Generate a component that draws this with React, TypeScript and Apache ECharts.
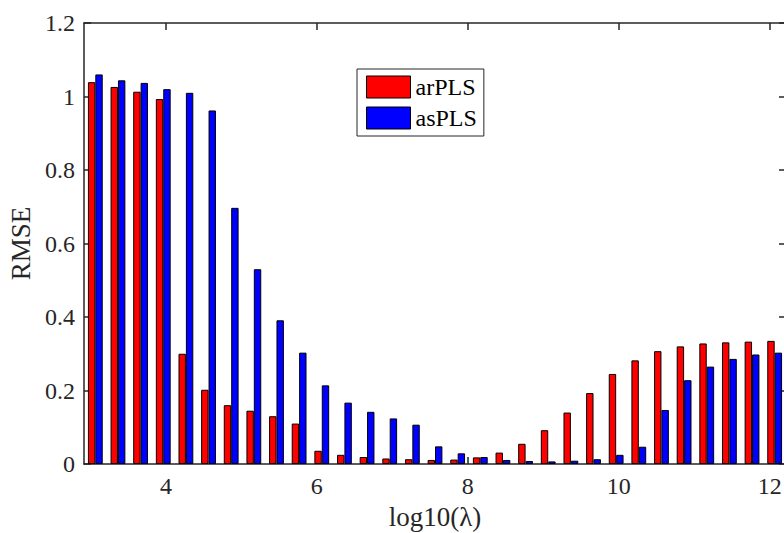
import React, { useEffect, useRef } from "react";
import * as echarts from "echarts";

const lgLambda = [
  3.065, 3.365, 3.665, 3.965, 4.265, 4.565, 4.865, 5.165, 5.465, 5.765, 6.065,
  6.365, 6.665, 6.965, 7.265, 7.565, 7.865, 8.165, 8.465, 8.765, 9.065, 9.365,
  9.665, 9.965, 10.265, 10.565, 10.865, 11.165, 11.465, 11.765, 12.065,
];
const arPLS = [
  1.039, 1.026, 1.013, 0.993, 0.3, 0.202, 0.16, 0.145, 0.13, 0.11, 0.036, 0.025,
  0.019, 0.015, 0.013, 0.011, 0.012, 0.018, 0.031, 0.055, 0.092, 0.14, 0.193,
  0.245, 0.282, 0.307, 0.32, 0.328, 0.331, 0.333, 0.335,
];
const asPLS = [
  1.06, 1.044, 1.037, 1.02, 1.01, 0.962, 0.697, 0.53, 0.391, 0.303, 0.214, 0.167,
  0.142, 0.124, 0.107, 0.048, 0.029, 0.019, 0.011, 0.008, 0.007, 0.009, 0.013,
  0.025, 0.047, 0.147, 0.228, 0.265, 0.286, 0.298, 0.303,
];
const xTicks = [4, 6, 8, 10, 12];
const seriesNames = ["arPLS", "asPLS"];
const seriesColors = ["#ff0000", "#0000ff"];

const FONT = "'Liberation Serif', 'Times New Roman', serif";
const AXIS_COLOR = "#262626";

export default function App() {
  const ref = useRef<HTMLDivElement>(null);
  useEffect(() => {
    document.body.style.margin = "0";
    const chart = echarts.init(ref.current!, null, { renderer: "svg" });
    const xMin = 2.915;
    const xMax = 12.215;
    const axisLine = { show: true, onZero: false, lineStyle: { color: AXIS_COLOR, width: 1.5 } };
    const tickStyle = { show: true, inside: true, length: 7, lineStyle: { color: AXIS_COLOR, width: 1.5 } };
    const labelStyle = { fontFamily: FONT, fontSize: 24, color: AXIS_COLOR };
    const mk = (vals: number[]) => vals.map((v, i) => [lgLambda[i], v]);
    chart.setOption({
      animation: false,
      backgroundColor: "#ffffff",
      textStyle: { fontFamily: FONT },
      grid: { left: 84, top: 23, right: -2, bottom: 69, containLabel: false, outerBoundsMode: "none" },
      legend: {
        orient: "vertical",
        left: 357,
        top: 69,
        data: seriesNames,
        icon: "rect",
        itemWidth: 44,
        itemHeight: 22,
        itemGap: 7,
        padding: [6, 7, 6, 9],
        borderColor: AXIS_COLOR,
        borderWidth: 1,
        backgroundColor: "#ffffff",
        textStyle: { fontFamily: FONT, fontSize: 24, color: "#000" },
        itemStyle: { borderColor: "#000", borderWidth: 1 },
      },
      xAxis: [
        {
          type: "value",
          min: xMin,
          max: xMax,
          position: "bottom",
          name: "log10(λ)",
          nameLocation: "middle",
          nameGap: 39,
          nameTextStyle: { fontFamily: FONT, fontSize: 27, color: AXIS_COLOR },
          axisLine,
          axisTick: { ...tickStyle, customValues: xTicks },
          axisLabel: { ...labelStyle, margin: 10, customValues: xTicks, formatter: (v: number) => String(v) },
          splitLine: { show: false },
        },
        {
          type: "value",
          min: xMin,
          max: xMax,
          position: "top",
          axisLine,
          axisTick: { ...tickStyle, customValues: xTicks },
          axisLabel: { show: false },
          splitLine: { show: false },
        },
      ],
      yAxis: [
        {
          type: "value",
          min: 0,
          max: 1.2,
          interval: 0.2,
          position: "left",
          name: "RMSE",
          nameLocation: "middle",
          nameGap: 50,
          nameRotate: 90,
          nameTextStyle: { fontFamily: FONT, fontSize: 27, color: AXIS_COLOR },
          axisLine,
          axisTick: tickStyle,
          axisLabel: { ...labelStyle, margin: 9, formatter: (v: number) => String(parseFloat(v.toFixed(1))) },
          splitLine: { show: false },
        },
        {
          type: "value",
          min: 0,
          max: 1.2,
          interval: 0.2,
          position: "right",
          axisLine,
          axisTick: tickStyle,
          axisLabel: { show: false },
          splitLine: { show: false },
        },
      ],
      series: [arPLS, asPLS].map((vals, k) => ({
        name: seriesNames[k],
        type: "bar",
        xAxisIndex: 0,
        yAxisIndex: 0,
        barWidth: 7.4,
        barGap: "0%",
        data: mk(vals),
        itemStyle: { color: seriesColors[k], borderColor: "#000", borderWidth: 1 },
      })),
    });
    return () => chart.dispose();
  }, []);
  return <div ref={ref} style={{ width: 784, height: 533 }} />;
}
